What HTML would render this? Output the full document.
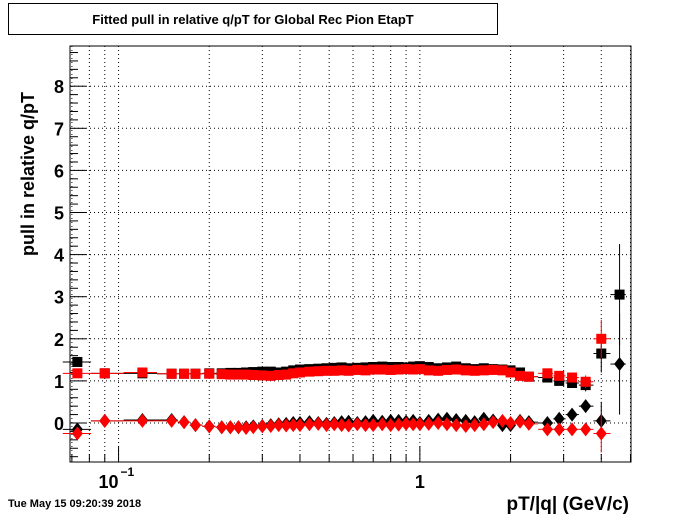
<!DOCTYPE html>
<html><head><meta charset="utf-8"><style>
body{margin:0;background:#fff;}
svg{display:block;font-family:"Liberation Sans",sans-serif;}
</style></head><body>
<svg id="c" width="700" height="514">
<rect x="0" y="0" width="700" height="514" fill="#fff"/>
<g>
<rect x="8.5" y="3.5" width="489" height="31" fill="#fff" stroke="#000"/>
<text x="253" y="24" text-anchor="middle" font-size="13" font-weight="bold">Fitted pull in relative q/pT for Global Rec Pion EtapT</text>
</g>
<text x="8" y="507" font-size="11" font-weight="bold">Tue May 15 09:20:39 2018</text>
<text x="629" y="510" text-anchor="end" font-size="19" font-weight="bold">pT/|q| (GeV/c)</text>
<text transform="translate(34,256) rotate(-90)" font-size="18" font-weight="bold">pull in relative q/pT</text>
<g id="grid"></g><g id="axes"></g><g id="marks"></g>
</svg>
<script>
const xVals=[0.073,0.09,0.12,0.15,0.165,0.18,0.2,0.22,0.235,0.25,0.265,0.28,0.30,0.32,0.34,0.36,0.38,0.40,0.43,0.46,0.49,0.52,0.55,0.58,0.62,0.66,0.70,0.75,0.80,0.85,0.90,0.95,1.0,1.07,1.15,1.23,1.32,1.42,1.52,1.63,1.75,1.88,2.0,2.15,2.3,2.65,2.9,3.2,3.55,4.0,4.6];
const blackSq=[1.45,1.18,1.18,1.17,1.17,1.17,1.18,1.18,1.19,1.19,1.2,1.21,1.22,1.22,1.2,1.22,1.25,1.27,1.28,1.29,1.3,1.31,1.32,1.3,1.31,1.32,1.33,1.34,1.33,1.33,1.32,1.34,1.35,1.33,1.3,1.32,1.34,1.3,1.28,1.3,1.28,1.27,1.25,1.2,1.1,1.08,1.0,0.95,0.9,1.65,3.05];
const redSq=[1.18,1.18,1.2,1.17,1.17,1.17,1.17,1.16,1.15,1.15,1.15,1.14,1.13,1.12,1.14,1.15,1.18,1.2,1.22,1.23,1.24,1.24,1.25,1.24,1.26,1.25,1.27,1.27,1.26,1.27,1.28,1.27,1.28,1.25,1.24,1.26,1.27,1.25,1.24,1.25,1.26,1.25,1.2,1.12,1.1,1.18,1.12,1.08,0.98,2.0,null];
const blackDi=[-0.15,0.05,0.07,0.07,0.02,-0.05,-0.08,-0.1,-0.1,-0.1,-0.1,-0.08,-0.07,-0.05,-0.03,-0.02,0.0,0.0,0.02,0.0,-0.02,0.0,0.02,0.03,0.0,0.02,0.05,0.03,0.05,0.05,0.03,0.05,0.0,0.05,0.08,0.1,0.07,0.05,0.02,0.1,0.06,-0.05,-0.05,0.05,0.02,0.0,0.1,0.2,0.4,0.05,1.4];
const redDi=[-0.25,0.05,0.05,0.05,0.02,-0.05,-0.08,-0.1,-0.1,-0.1,-0.12,-0.1,-0.08,-0.07,-0.05,-0.06,-0.05,-0.05,-0.03,-0.02,-0.05,-0.03,-0.05,-0.06,-0.03,-0.05,-0.05,-0.03,-0.05,-0.04,-0.02,-0.03,-0.03,-0.02,0.0,-0.03,-0.05,-0.07,-0.05,-0.03,0.02,0.05,0.0,0.03,-0.02,-0.15,-0.15,-0.15,-0.15,-0.25,null];
const tailErr={"3.55":0.15,"4":0.45,"4.6":1.2};
const yTicks=[0,1,2,3,4,5,6,7,8];
const xMajorLabels=[{v:0.1,t:"10"},{v:1,t:"1"}];
const X0=70,X1=631,Y0=46,Y1=462;
const lx0=Math.log10(0.069),lx1=Math.log10(5.02);
const sx=v=>X0+(Math.log10(v)-lx0)/(lx1-lx0)*(X1-X0);
const sy=v=>423-v*42.1;
const NS="http://www.w3.org/2000/svg";
function mk(tag,p,parent){const e=document.createElementNS(NS,tag);for(const k in p)e.setAttribute(k,p[k]);parent.appendChild(e);return e;}
const grid=document.getElementById('grid'),axes=document.getElementById('axes'),marks=document.getElementById('marks');
const minors=[];
for(const d of [0.01,0.1,1]){for(let m=1;m<10;m++){const v=m*d;if(v>=0.069&&v<=5.02)minors.push(v);}}
minors.forEach(v=>{const x=sx(v);
const g=mk('line',{x1:x,x2:x,y1:Y0,y2:Y1,stroke:'#000','stroke-dasharray':'1,3','stroke-width':1},grid);

const major=Math.abs(Math.log10(v)-Math.round(Math.log10(v)))<1e-6;
const t=mk('line',{x1:x,x2:x,y1:Y1,y2:Y1-(major?16:8),stroke:'#000'},axes);
});
yTicks.forEach(v=>{const y=sy(v);
const g=mk('line',{x1:X0,x2:X1,y1:y,y2:y,stroke:'#000','stroke-dasharray':'1,3'},grid);

const t=mk('line',{x1:X0,x2:X0+16,y1:y,y2:y,stroke:'#000'},axes);

const l=mk('text',{x:64,y:y+7,'text-anchor':'end','font-size':18,'font-weight':'bold'},axes);l.textContent=v;
});
for(let v=-0.8;v<8.9;v+=0.2){if(Math.abs(v-Math.round(v))<1e-6)continue;const y=sy(v);
const t=mk('line',{x1:X0,x2:X0+8,y1:y,y2:y,stroke:'#000'},axes);}
const fr=mk('rect',{x:X0,y:Y0,width:X1-X0,height:Y1-Y0,fill:'none',stroke:'#000'},axes);

xMajorLabels.forEach(o=>{const x=sx(o.v);
const l=mk('text',{x:o.v<1?x-10:x,y:488,'text-anchor':'middle','font-size':18,'font-weight':'bold'},axes);l.textContent=o.t;

if(o.v<1){const s=mk('text',{x:x+2,y:476,'font-size':12,'font-weight':'bold'},axes);s.textContent='\u22121';
}});
function series(vals,color,shape,name){
vals.forEach((v,i)=>{if(v===null)return;const xv=xVals[i];const x=sx(xv),y=sy(v);
const prev=i>0?xVals[i-1]:xv*0.8,next=i<xVals.length-1?xVals[i+1]:xv*1.1;
const xl=sx(Math.sqrt(prev*xv)),xr=sx(Math.sqrt(next*xv));
const h=mk('line',{x1:xl,x2:xr,y1:y,y2:y,stroke:color},marks);
const e=tailErr[String(xv)];
if(xv>=2.6){const ev=e||0.08;const vv=mk('line',{x1:x,x2:x,y1:sy(v-ev),y2:sy(v+ev),stroke:color},marks);}
let m;
if(shape==='sq')m=mk('rect',{x:x-5,y:y-5,width:10,height:10,fill:color},marks);
else m=mk('polygon',{points:`${x},${y-7} ${x+5.5},${y} ${x},${y+7} ${x-5.5},${y}`,fill:color},marks);
});}
series(blackSq,'#000','sq','black-square');
series(blackDi,'#000','di','black-diamond');
series(redSq,'#f00','sq','red-square');
series(redDi,'#f00','di','red-diamond');
</script>
</body></html>
